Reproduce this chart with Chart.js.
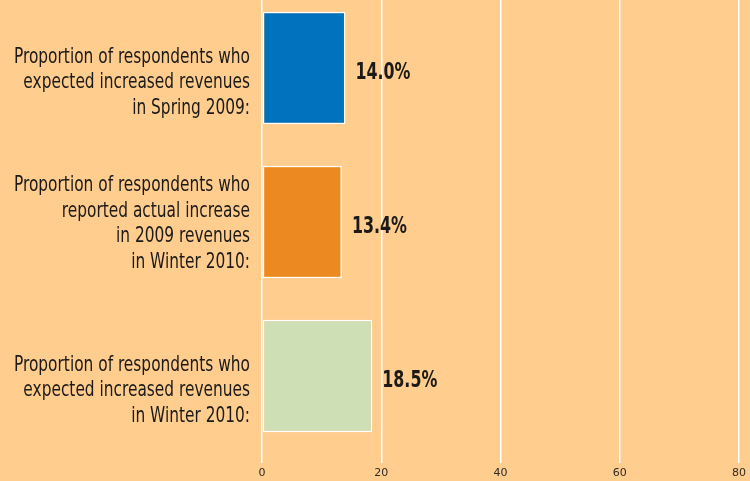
<!DOCTYPE html>
<html><head><meta charset="utf-8">
<script src="https://cdn.jsdelivr.net/npm/chart.js@4"></script>
<style>
html,body{margin:0;padding:0;background:#FFCD8E;overflow:hidden;width:750px;height:481px;}
#wrap{position:absolute;left:0;top:-9px;width:750px;height:490px;}
</style></head><body>
<div id="wrap"><canvas id="c" width="750" height="490"></canvas></div>
<script>
const categories = [
  ["Proportion of respondents who","expected increased revenues","in Spring 2009:"],
  ["Proportion of respondents who","reported actual increase","in 2009 revenues","in Winter 2010:"],
  ["Proportion of respondents who","expected increased revenues","in Winter 2010:"]
];
const values = [14.0, 13.4, 18.5];
const valueLabels = ["14.0%", "13.4%", "18.5%"];
const barColors = ["#0072BE", "#EC8A21", "#CFDFB5"];
const xTicks = [0, 20, 40, 60, 80];

const TEXT_COLOR = '#1c1a18';
const LABEL_FONT = '22px "DejaVu Sans Condensed", "DejaVu Sans", sans-serif';
const VALUE_FONT = 'bold 23px "DejaVu Sans Condensed", "DejaVu Sans", sans-serif';

// draws the category labels (narrow, right-aligned) and the value labels
const textPlugin = {
  id: 'textLabels',
  afterDatasetsDraw(chart) {
    const ctx = chart.ctx;
    const yScale = chart.scales.y;
    const meta = chart.getDatasetMeta(0);
    ctx.save();
    ctx.fillStyle = TEXT_COLOR;
    // category labels
    ctx.font = LABEL_FONT;
    const sx = 236 / ctx.measureText(categories[0][0]).width;
    const rightX = chart.chartArea.left - 12;
    const lh = 25.5;
    categories.forEach((lines, i) => {
      const cy = yScale.getPixelForTick(i);
      const offset = 4 - lines.length; // block is bottom-aligned in a 4-line box
      lines.forEach((line, j) => {
        const k = j + offset;
        const by = cy + (k - 1.5) * lh + 7.5;
        ctx.save();
        ctx.translate(rightX, by);
        ctx.scale(sx, 1);
        ctx.textAlign = 'right';
        ctx.textBaseline = 'alphabetic';
        ctx.fillText(line, 0, 0);
        ctx.restore();
      });
    });
    // value labels
    ctx.font = VALUE_FONT;
    const vsx = 55 / ctx.measureText(valueLabels[0]).width;
    meta.data.forEach((bar, i) => {
      ctx.save();
      ctx.translate(bar.x + 10, bar.y + 10.5);
      ctx.scale(vsx, 1);
      ctx.textAlign = 'left';
      ctx.textBaseline = 'alphabetic';
      ctx.fillText(valueLabels[i], 0, 0);
      ctx.restore();
    });
    ctx.restore();
  }
};

new Chart(document.getElementById('c'), {
  type: 'bar',
  data: {
    labels: categories,
    datasets: [{
      data: values,
      backgroundColor: barColors,
      borderColor: '#ffffff',
      borderWidth: 1.5,
      borderSkipped: false,
      categoryPercentage: 1,
      barPercentage: 0.73
    }]
  },
  options: {
    indexAxis: 'y',
    responsive: false,
    animation: false,
    layout: { padding: { top: 0, right: 10, left: 0, bottom: 0 } },
    plugins: { legend: { display: false }, tooltip: { enabled: false } },
    scales: {
      x: {
        min: 0, max: 80,
        afterBuildTicks(scale) { scale.ticks = xTicks.map(v => ({ value: v })); },
        afterFit(scale) { scale.height = 28; },
        border: { display: false },
        grid: { color: '#ffffff', lineWidth: 1.5, tickLength: 10, drawTicks: true },
        ticks: { color: '#2e2a26', font: { family: '"DejaVu Sans", Verdana, sans-serif', size: 11 }, padding: 4 }
      },
      y: {
        afterFit(scale) { scale.width = 262; scale.paddingTop = 0; scale.paddingBottom = 0; },
        border: { display: false },
        grid: { display: false, drawTicks: false },
        ticks: { display: false }
      }
    }
  },
  plugins: [textPlugin]
});
</script>
</body></html>
